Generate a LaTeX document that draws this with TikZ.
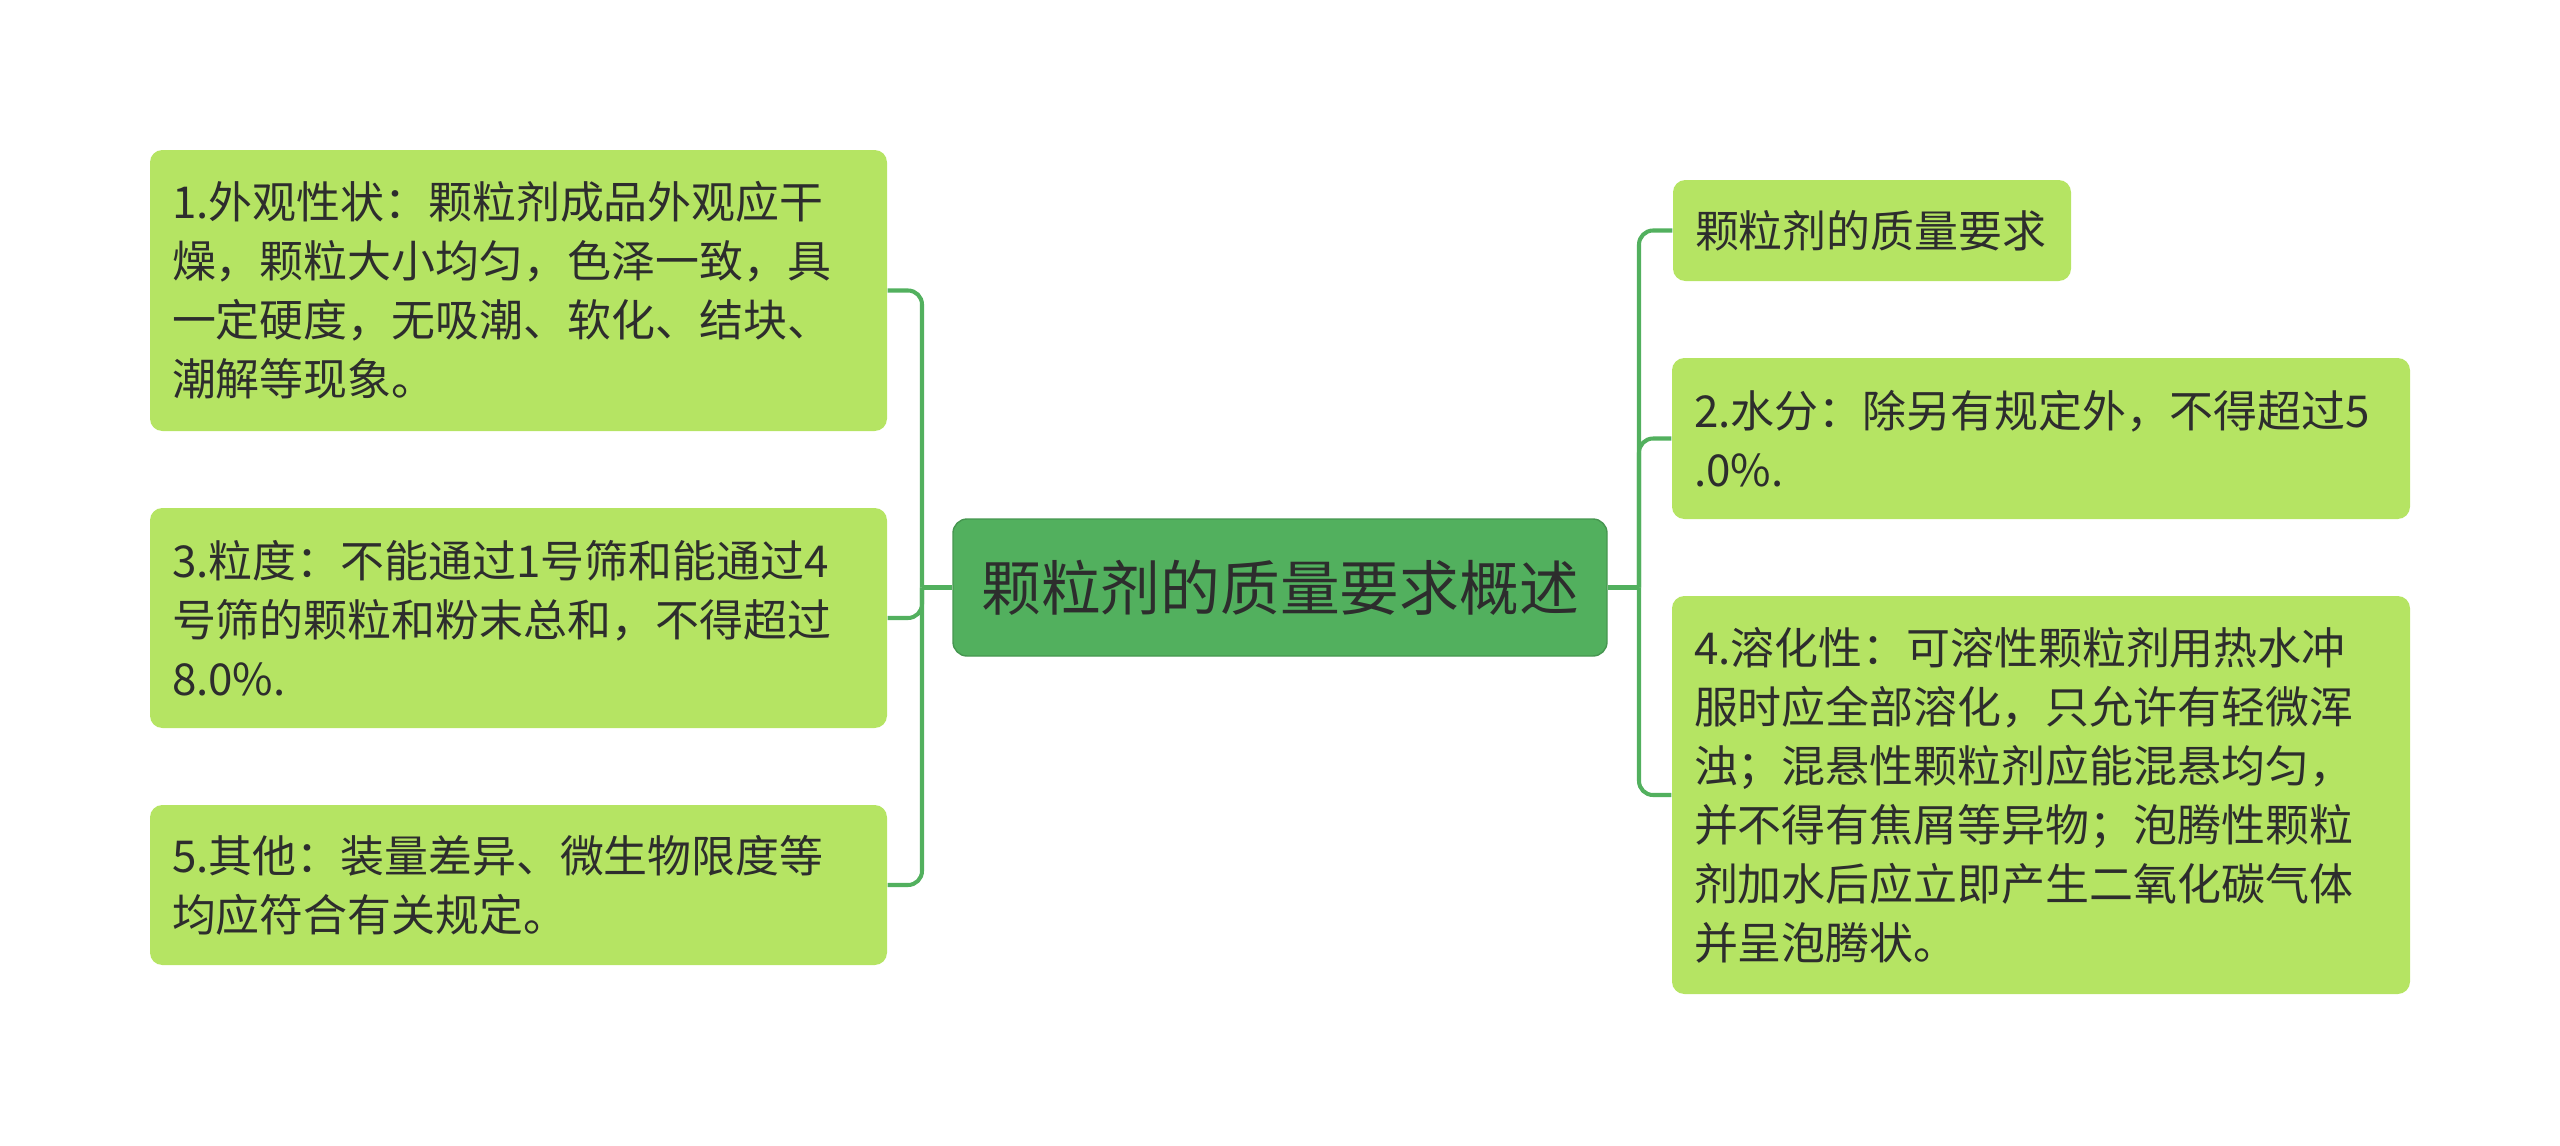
\documentclass[tikz,border=0pt]{standalone}
\usepackage{fontspec}
\setmainfont{Noto Sans CJK SC}
\usetikzlibrary{positioning}
\definecolor{leafgreen}{RGB}{181,228,99}
\definecolor{rootgreen}{RGB}{82,176,94}
\definecolor{linkgreen}{RGB}{82,176,94}
\definecolor{txtgray}{RGB}{45,45,45}

\begin{document}
\begin{tikzpicture}[
    leaf/.style={fill=leafgreen,rounded corners=3.5pt,align=left,inner xsep=0.22cm,inner ysep=0pt,
      text=txtgray,font=\fontsize{12.5pt}{16.8pt}\selectfont},
    root/.style={fill=rootgreen,draw=rootgreen!85!black,line width=0.4pt,rounded corners=4pt,
      minimum width=6.54cm,minimum height=1.37cm,text=txtgray,font=\fontsize{17pt}{20pt}\selectfont},
    link/.style={draw=linkgreen,line width=1.15pt,rounded corners=0.14cm}
  ]
  \useasboundingbox (0,0) rectangle (25.6,-11.46);

  \node[root] (c) at (12.80,-5.875) {颗粒剂的质量要求概述};

  % left side
  \node[leaf,text width=6.93cm,minimum height=2.81cm] (l1) at (5.185,-2.905)
    {1.外观性状：颗粒剂成品外观应干\\燥，颗粒大小均匀，色泽一致，具\\一定硬度，无吸潮、软化、结块、\\潮解等现象。};
  \node[leaf,text width=6.93cm,minimum height=2.20cm] (l3) at (5.185,-6.18)
    {3.粒度：不能通过1号筛和能通过4\\号筛的颗粒和粉末总和，不得超过\\8.0\%.};
  \node[leaf,text width=6.93cm,minimum height=1.60cm] (l5) at (5.185,-8.85)
    {5.其他：装量差异、微生物限度等\\均应符合有关规定。};

  % right side
  \node[leaf,text width=3.54cm,minimum height=1.01cm] (r1) at (18.72,-2.305)
    {颗粒剂的质量要求};
  \node[leaf,text width=6.94cm,minimum height=1.61cm] (r2) at (20.41,-4.385)
    {2.水分：除另有规定外，不得超过5\\.0\%.};
  \node[leaf,text width=6.94cm,minimum height=3.98cm] (r3) at (20.41,-7.95)
    {4.溶化性：可溶性颗粒剂用热水冲\\服时应全部溶化，只允许有轻微浑\\浊；混悬性颗粒剂应能混悬均匀，\\并不得有焦屑等异物；泡腾性颗粒\\剂加水后应立即产生二氧化碳气体\\并呈泡腾状。};

  \coordinate (lj) at (9.22,-5.875);
  \coordinate (rj) at (16.39,-5.875);

  \draw[link] (c.west) -- (lj);
  \draw[link] (lj) |- (l1.east);
  \draw[link] (lj) |- (l3.east);
  \draw[link] (lj) |- (l5.east);

  \draw[link] (c.east) -- (rj);
  \draw[link] (rj) |- (r1.west);
  \draw[link] (rj) |- (r2.west);
  \draw[link] (rj) |- (r3.west);

\end{tikzpicture}
\end{document}
